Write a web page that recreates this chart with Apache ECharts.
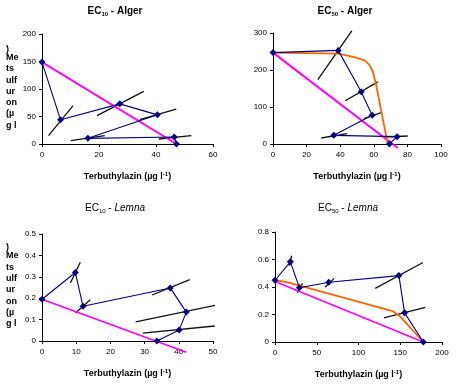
<!DOCTYPE html>
<html><head><meta charset="utf-8">
<script src="https://cdn.jsdelivr.net/npm/echarts@6/dist/echarts.min.js"></script>
<style>html,body{margin:0;padding:0;background:#fff}#c{width:456px;height:386px}</style>
</head><body><div id="c"></div>
<script>
// Panel 1: EC10 - Alger
var blue1 = [[0,149],[6.5,44],[27.3,73],[40.5,53],[16.1,10.3],[46.4,12.7],[47.2,0]];
var magenta1 = [[0,149],[47.2,0]];
var tangents1 = [[[2.3,15.2],[10.9,69.7]],[[19.3,51.5],[35.7,95.8]],[[34.3,44.2],[47.1,63.6]],[[10.1,6.1],[22,15.2]],[[41,9.1],[52.4,15.2]]];
// Panel 2: EC50 - Alger
var blue2 = [[0,247],[38.8,253],[52.5,141],[59,77.5],[36.2,23.4],[73.9,19.8],[69.3,0]];
var orange2 = [[0,247],[38.6,244],[48.5,235],[54.5,226],[57.4,214],[59.4,196],[61.4,160],[68.3,0]];
var magenta2 = [[0,247],[74.3,-10.8]];
var tangents2 = [[[26.7,174],[46.9,306]],[[43,117],[62.4,168]],[[54.1,68.5],[64.8,85.6]],[[28.7,16.2],[44.2,27.9]],[[66.3,18.9],[80.2,21.6]]];
// Panel 3: EC10 - Lemna
var blue3 = [[0,0.195],[9.75,0.32],[12,0.162],[37.5,0.248],[42.2,0.135],[40.1,0.051],[33.6,0]];
var magenta3 = [[0,0.195],[42.2,-0.053]];
var tangents3 = [[[8.3,0.271],[11.2,0.368]],[[9.8,0.131],[14.1,0.193]],[[32.2,0.215],[43.2,0.287]],[[27.4,0.089],[50.8,0.167]],[[29.5,0.037],[50.5,0.070]]];
// Panel 4: EC50 - Lemna
var blue4 = [[0,0.449],[18.4,0.583],[29.2,0.395],[64.4,0.434],[148.4,0.483],[155.2,0.212],[177.6,0]];
var orange4 = [[0,0.449],[14,0.436],[141,0.225],[150.4,0.183],[177.6,0]];
var magenta4 = [[0,0.44],[177.6,0]];
var tangents4 = [[[16.8,0.554],[20,0.627]],[[26.8,0.359],[32.8,0.427]],[[60,0.398],[70.8,0.463]],[[120,0.39],[177.2,0.578]],[[130.4,0.176],[180,0.251]]];

var titles = [['EC','10',' - Alger',''],['EC','50',' - Alger',''],['EC','10',' - ','Lemna'],['EC','50',' - ','Lemna']];
var xRanges = [[0,60,20],[0,100,20],[0,50,10],[0,200,50]];
var yRanges = [[0,200,50],[0,300,100],[0,0.5,0.1],[0,0.8,0.2]];
var xName = 'Terbuthylazin (µg l';
var yLabelLines = [')','Me','ts','ulf','ur','on','(µ','g l'];

var FONT = 'Liberation Sans, Arial, sans-serif';
var grids = [
  {left:42, top:34, width:171, height:110},
  {left:273, top:33, width:168, height:111},
  {left:42, top:234, width:171, height:107},
  {left:275, top:232, width:167, height:110}
];
var xAxes = [], yAxes = [], series = [];
var blues=[blue1,blue2,blue3,blue4], mags=[magenta1,magenta2,magenta3,magenta4];
var oranges=[null,orange2,null,orange4];
var tans=[tangents1,tangents2,tangents3,tangents4];
for (var i=0;i<4;i++){
  xAxes.push({type:'value',gridIndex:i,min:xRanges[i][0],max:xRanges[i][1],interval:xRanges[i][2],
    splitLine:{show:false},axisLine:{onZero:false,lineStyle:{color:'#000',width:1}},
    axisTick:{show:true,inside:false,length:3,lineStyle:{color:'#000'}},
    axisLabel:{fontSize:8,color:'#000',fontFamily:FONT,margin:7},
    name:'{n|'+xName+'}{s|-1}{n|)}',nameLocation:'middle',nameGap:27,
    nameTextStyle:{rich:{n:{fontSize:9,fontWeight:'bold',fontFamily:FONT,color:'#000'},
      s:{fontSize:6,fontWeight:'bold',fontFamily:FONT,color:'#000',verticalAlign:'top',padding:[0,0,5,0]}}}});
  yAxes.push({type:'value',gridIndex:i,min:yRanges[i][0],max:yRanges[i][1],interval:yRanges[i][2],
    splitLine:{show:false},axisLine:{show:true,lineStyle:{color:'#000',width:1}},
    axisTick:{show:true,inside:false,length:3,lineStyle:{color:'#000'}},
    axisLabel:{fontSize:8,color:'#000',fontFamily:FONT,margin:6}});
  tans[i].forEach(function(seg){
    series.push({type:'line',xAxisIndex:i,yAxisIndex:i,data:seg,symbol:'none',clip:false,
      lineStyle:{color:'#111',width:1.3},silent:true,animation:false,z:2});
  });
  series.push({type:'line',xAxisIndex:i,yAxisIndex:i,data:mags[i],symbol:'none',clip:false,
    lineStyle:{color:'#FF00FF',width:i<2?2:1.6},animation:false,z:3});
  if (oranges[i]) series.push({type:'line',xAxisIndex:i,yAxisIndex:i,data:oranges[i],symbol:'none',clip:false,
    lineStyle:{color:'#FF6600',width:1.8},animation:false,z:4});
  series.push({type:'line',xAxisIndex:i,yAxisIndex:i,data:blues[i],symbol:'diamond',symbolSize:7,clip:false,
    lineStyle:{color:'#000080',width:1.1},itemStyle:{color:'#000080'},animation:false,z:5});
}
var titleComps = [];
var tpos = [[110,1],[340,1],[110,198],[343,198]];
for (var j=0;j<4;j++){
  var t = titles[j];
  var bold = (j<2)?'bold':'normal';
  var text = '{a|'+t[0]+'}{s|'+t[1]+'}{a|'+t[2]+'}' + (j>=2 ? '{i|'+t[3]+'}' : '');
  titleComps.push({text:text,left:tpos[j][0],top:tpos[j][1],textAlign:'center',
    textStyle:{rich:{
      a:{fontSize:10,fontWeight:bold,fontFamily:FONT,color:'#000'},
      s:{fontSize:6,fontWeight:bold,fontFamily:FONT,color:'#000',verticalAlign:'bottom',padding:[5,0,0,0]},
      i:{fontSize:10,fontWeight:bold,fontStyle:'italic',fontFamily:FONT,color:'#000'}}}});
}
var graphics = [];
[[0],[198.5]].forEach(function(off){
  yLabelLines.forEach(function(s,k){
    var y = (k===0? 45 : 53 + (k-1)*11.3) + off[0];
    graphics.push({type:'text',left:6,top:y,style:{text:s,font:'bold 9px '+FONT,fill:'#000'}});
  });
});
var chart = echarts.init(document.getElementById('c'),null,{renderer:'canvas'});
chart.setOption({animation:false,backgroundColor:'#fff',title:titleComps,grid:grids,xAxis:xAxes,yAxis:yAxes,series:series,graphic:graphics});
</script></body></html>
